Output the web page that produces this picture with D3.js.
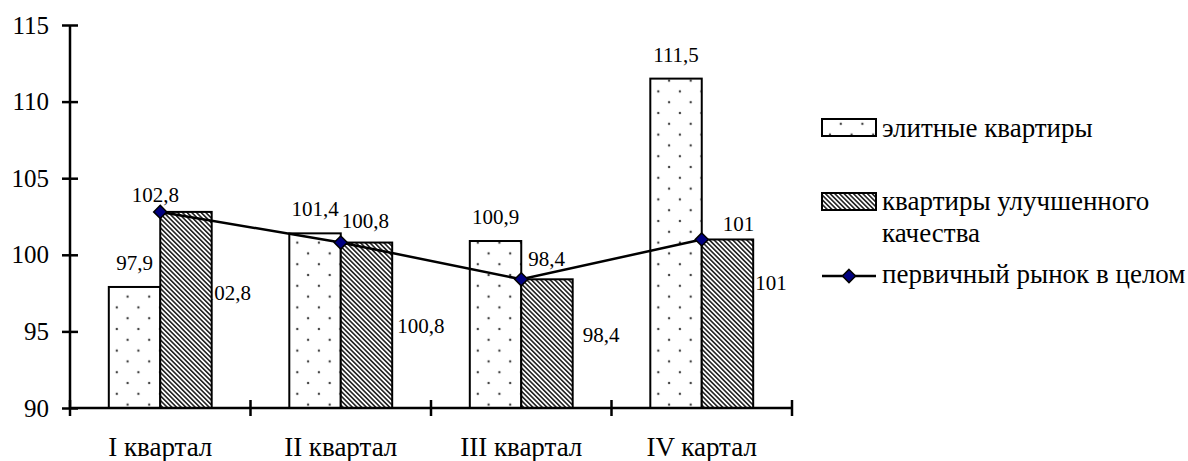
<!DOCTYPE html>
<html>
<head>
<meta charset="utf-8">
<script src="https://cdn.jsdelivr.net/npm/d3@7"></script>
</head>
<body style="margin:0">
<div id="dataviz"></div>
<script>
// data
const categories = ["I квартал", "II квартал", "III квартал", "IV картал"];
const eliteValues = [97.9, 101.4, 100.9, 111.5];
const improvedValues = [102.8, 100.8, 98.4, 101];
const marketValues = [102.8, 100.8, 98.4, 101];
const yTicks = [90, 95, 100, 105, 110, 115];
const seriesNames = ["элитные квартиры", "квартиры улучшенного качества", "первичный рынок в целом"];

// label nudges (pixels) - the original labels were dragged around by hand
const lineLabelNudge = [[-5, -10, "middle"], [1, -15, "start"], [7, -13, "start"], [21, -8, "start"]];
const improvedLabelNudge = [[-8, 88], [5, 90], [10, 63], [2, 51]];

const FONT = "Liberation Serif";

const width = 1188, height = 461;
const plot = { left: 70, right: 792, top: 25, bottom: 408 };

// every text gets the serif face, forced inline
function serif(sel, size) {
    return sel.attr("font-family", FONT)
        .attr("font-size", size)
        .style("font-family", FONT, "important")
        .style("font-size", size + "px", "important");
}

const svg = d3.select("#dataviz")
    .append("svg")
    .attr("width", width)
    .attr("height", height);

const defs = svg.append("defs");

// dotted fill
const dots = defs.append("pattern")
    .attr("id", "dots")
    .attr("patternUnits", "userSpaceOnUse")
    .attr("width", 21.6).attr("height", 21.6)
    .attr("x", 656).attr("y", 5);
dots.append("rect").attr("width", 21.6).attr("height", 21.6).attr("fill", "#fff");
[[0, 0], [21.6, 0], [0, 21.6], [21.6, 21.6], [10.8, 10.8]].forEach(p => {
    dots.append("circle").attr("cx", p[0]).attr("cy", p[1]).attr("r", 1.2).attr("fill", "#444");
});

// diagonal hatch
const hatch = defs.append("pattern")
    .attr("id", "hatch")
    .attr("patternUnits", "userSpaceOnUse")
    .attr("width", 3.3).attr("height", 10)
    .attr("patternTransform", "rotate(-45)");
hatch.append("rect").attr("width", 3.3).attr("height", 10).attr("fill", "#fff");
hatch.append("rect").attr("width", 1.6).attr("height", 10).attr("fill", "#222");

const fmt = v => String(v).replace(".", ",");

const x0 = d3.scaleBand()
    .domain(categories)
    .range([plot.left, plot.right])
    .paddingInner(0.43)
    .paddingOuter(0.215);

const x1 = d3.scaleBand()
    .domain(["elite", "improved"])
    .range([0, x0.bandwidth()]);

const y = d3.scaleLinear()
    .domain([90, 115])
    .range([plot.bottom, plot.top]);

// labels to the right of the hatched bars (drawn first, bars cover them)
svg.selectAll(".improved-label")
    .data(improvedValues)
    .join("text")
    .attr("class", "improved-label")
    .attr("x", (d, i) => x0(categories[i]) + x0.bandwidth() + improvedLabelNudge[i][0])
    .attr("y", (d, i) => y(d) + improvedLabelNudge[i][1])
    .call(serif, 21)
    .text(fmt);

// bars
const groups = svg.selectAll(".group")
    .data(categories)
    .join("g")
    .attr("class", "group")
    .attr("transform", d => `translate(${x0(d)},0)`);

groups.append("rect")
    .attr("x", x1("elite"))
    .attr("y", (d, i) => y(eliteValues[i]))
    .attr("width", x1.bandwidth())
    .attr("height", (d, i) => y(90) - y(eliteValues[i]))
    .attr("fill", "url(#dots)")
    .attr("stroke", "#000")
    .attr("stroke-width", 2);

groups.append("rect")
    .attr("x", x1("improved"))
    .attr("y", (d, i) => y(improvedValues[i]))
    .attr("width", x1.bandwidth())
    .attr("height", (d, i) => y(90) - y(improvedValues[i]))
    .attr("fill", "url(#hatch)")
    .attr("stroke", "#000")
    .attr("stroke-width", 2);

groups.append("text")
    .attr("x", x1("elite") + x1.bandwidth() / 2)
    .attr("y", (d, i) => y(eliteValues[i]) - 17)
    .attr("text-anchor", "middle")
    .call(serif, 21)
    .text((d, i) => fmt(eliteValues[i]));

// axes
const yAxis = svg.append("g")
    .attr("transform", `translate(${plot.left},0)`)
    .call(d3.axisLeft(y).tickValues(yTicks).tickSize(8).tickPadding(13));
yAxis.attr("font-family", FONT).attr("font-size", 25);
yAxis.select(".domain").remove();
yAxis.selectAll(".tick line").attr("x2", 8).attr("x1", -8).attr("stroke-width", 2.5);
yAxis.append("line")
    .attr("x1", 0).attr("x2", 0)
    .attr("y1", plot.top).attr("y2", plot.bottom)
    .attr("stroke", "#000").attr("stroke-width", 2.5);
yAxis.selectAll(".tick text")
    .call(serif, 25)
    .attr("fill", "#000");

const xAxis = svg.append("g")
    .attr("transform", `translate(0,${plot.bottom})`);
xAxis.append("line")
    .attr("x1", plot.left).attr("x2", plot.right)
    .attr("stroke", "#000").attr("stroke-width", 2.5);
const boundaries = categories.map(c => x0(c) - x0.step() * 0.215).concat([plot.right]);
xAxis.selectAll(".xtick")
    .data(boundaries)
    .join("line")
    .attr("class", "xtick")
    .attr("x1", d => d).attr("x2", d => d)
    .attr("y1", -8).attr("y2", 8)
    .attr("stroke", "#000").attr("stroke-width", 2.5);
xAxis.selectAll(".xlabel")
    .data(categories)
    .join("text")
    .attr("class", "xlabel")
    .attr("x", d => x0(d) + x0.bandwidth() / 2)
    .attr("y", 48)
    .attr("text-anchor", "middle")
    .call(serif, 27)
    .text(d => d);

// line series
const cx = (d, i) => x0(categories[i]) + x0.bandwidth() / 2;
const line = d3.line()
    .x(cx)
    .y(d => y(d));

svg.append("path")
    .datum(marketValues)
    .attr("d", line)
    .attr("fill", "none")
    .attr("stroke", "#000")
    .attr("stroke-width", 2.5);

const diamond = d3.symbol().type(d3.symbolDiamond2).size(110);
svg.selectAll(".marker")
    .data(marketValues)
    .join("path")
    .attr("class", "marker")
    .attr("d", diamond)
    .attr("transform", (d, i) => `translate(${cx(d, i)},${y(d)})`)
    .attr("fill", "#000080")
    .attr("stroke", "#000")
    .attr("stroke-width", 1.5);

svg.selectAll(".line-label")
    .data(marketValues)
    .join("text")
    .attr("class", "line-label")
    .attr("x", (d, i) => cx(d, i) + lineLabelNudge[i][0])
    .attr("y", (d, i) => y(d) + lineLabelNudge[i][1])
    .attr("text-anchor", (d, i) => lineLabelNudge[i][2])
    .call(serif, 21)
    .text(fmt);

// legend
const legend = svg.append("g").attr("transform", "translate(822,0)");

legend.append("rect")
    .attr("x", 0).attr("y", 119).attr("width", 54).attr("height", 17)
    .attr("fill", "url(#dots)").attr("stroke", "#000").attr("stroke-width", 2);
legend.append("rect")
    .attr("x", 0).attr("y", 193).attr("width", 54).attr("height", 17)
    .attr("fill", "url(#hatch)").attr("stroke", "#000").attr("stroke-width", 2);
legend.append("line")
    .attr("x1", 0).attr("x2", 54).attr("y1", 276).attr("y2", 276)
    .attr("stroke", "#000").attr("stroke-width", 2.5);
legend.append("path")
    .attr("d", diamond)
    .attr("transform", "translate(27,276)")
    .attr("fill", "#000080").attr("stroke", "#000").attr("stroke-width", 1.5);

const legendTexts = [[seriesNames[0], 137], ["квартиры улучшенного", 210], ["качества", 242], [seriesNames[2], 283]];
const legendLabels = legend.selectAll(".legend-text")
    .data(legendTexts)
    .join("text")
    .attr("class", "legend-text")
    .attr("x", 60)
    .attr("y", d => d[1])
    .call(serif, 29)
    .text(d => d[0]);

// keep the longest legend line inside the window
const longest = d3.max(legendLabels.nodes(), n => n.getComputedTextLength());
if (longest > 304) {
    legendLabels.call(serif, Math.floor(29 * 304 / longest));
}
</script>
</body>
</html>
